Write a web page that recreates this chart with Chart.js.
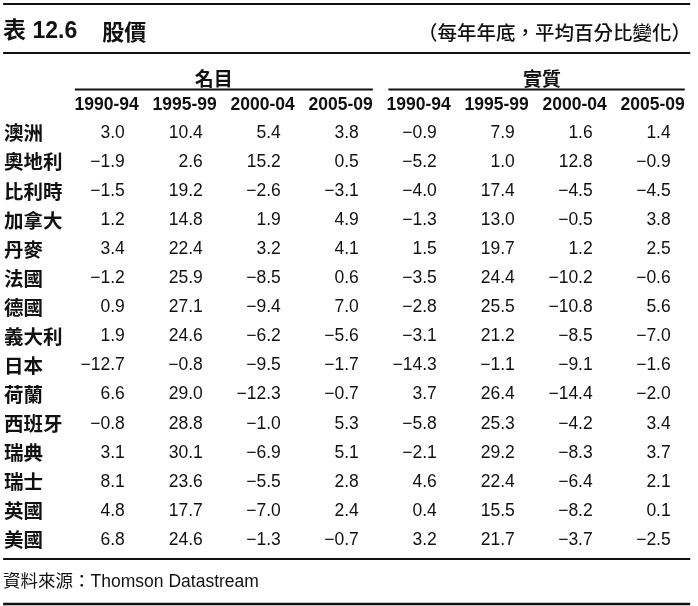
<!DOCTYPE html>
<html>
<head>
<meta charset="utf-8">
<script src="https://cdn.jsdelivr.net/npm/chart.js@4/dist/chart.umd.min.js"></script>
<style>
  html, body { margin: 0; padding: 0; background: #fff; }
  canvas { display: block; }
</style>
</head>
<body>
<canvas id="table" width="698" height="606"></canvas>
<script>
// table content
const countries = ['澳洲', '奧地利', '比利時', '加拿大', '丹麥', '法國', '德國', '義大利',
                   '日本', '荷蘭', '西班牙', '瑞典', '瑞士', '英國', '美國'];
const periods = ['1990-94', '1995-99', '2000-04', '2005-09'];
const groups = ['名目', '實質'];

// nominal
const nom1990 = [3.0, -1.9, -1.5, 1.2, 3.4, -1.2, 0.9, 1.9, -12.7, 6.6, -0.8, 3.1, 8.1, 4.8, 6.8];
const nom1995 = [10.4, 2.6, 19.2, 14.8, 22.4, 25.9, 27.1, 24.6, -0.8, 29.0, 28.8, 30.1, 23.6, 17.7, 24.6];
const nom2000 = [5.4, 15.2, -2.6, 1.9, 3.2, -8.5, -9.4, -6.2, -9.5, -12.3, -1.0, -6.9, -5.5, -7.0, -1.3];
const nom2005 = [3.8, 0.5, -3.1, 4.9, 4.1, 0.6, 7.0, -5.6, -1.7, -0.7, 5.3, 5.1, 2.8, 2.4, -0.7];
// real
const real1990 = [-0.9, -5.2, -4.0, -1.3, 1.5, -3.5, -2.8, -3.1, -14.3, 3.7, -5.8, -2.1, 4.6, 0.4, 3.2];
const real1995 = [7.9, 1.0, 17.4, 13.0, 19.7, 24.4, 25.5, 21.2, -1.1, 26.4, 25.3, 29.2, 22.4, 15.5, 21.7];
const real2000 = [1.6, 12.8, -4.5, -0.5, 1.2, -10.2, -10.8, -8.5, -9.1, -14.4, -4.2, -8.3, -6.4, -8.2, -3.7];
const real2005 = [1.4, -0.9, -4.5, 3.8, 2.5, -0.6, 5.6, -7.0, -1.6, -2.0, 3.4, 3.7, 2.1, 0.1, -2.5];

const columns = [nom1990, nom1995, nom2000, nom2005, real1990, real1995, real2000, real2005];

const titleText = '表 12.6';
const titleName = '股價';
const subtitle = '（每年年底，平均百分比變化）';
const source = '資料來源：Thomson Datastream';

const INK = '#111';
const latin = '"Liberation Sans", Arial, sans-serif';
const cjk = '"Noto Sans CJK TC", "Noto Sans CJK SC", sans-serif';

function fmt(v) {
    return v.toFixed(1).replace('-', '\u2212');
}

// one scatter dataset per column, each cell sits at (column, row)
const datasets = columns.map((col, c) => ({
    label: (c < 4 ? groups[0] : groups[1]) + ' ' + periods[c % 4],
    data: col.map((v, r) => ({ x: c, y: r, v: v })),
    pointRadius: 0,
    showLine: false
}));

// draws the cell texts, headers and rules using the chart scales
const tablePlugin = {
    id: 'tablePlugin',
    afterDatasetsDraw(chart) {
        const ctx = chart.ctx;
        const sx = chart.scales.x, sy = chart.scales.y;
        const px = v => sx.getPixelForValue(v);
        const py = v => sy.getPixelForValue(v);

        ctx.save();
        ctx.fillStyle = INK;
        ctx.strokeStyle = INK;
        ctx.textBaseline = 'middle';

        // rules
        function rule(y, x0, x1, w) {
            ctx.lineWidth = w;
            ctx.beginPath();
            ctx.moveTo(px(x0), py(y));
            ctx.lineTo(px(x1), py(y));
            ctx.stroke();
        }
        rule(-4.44, -1.56, 7.25, 2);
        rule(-2.75, -1.56, 7.25, 2);
        rule(-1.50, -0.64, 3.18, 2);
        rule(-1.50, 3.38, 7.18, 2);
        rule(14.65, -1.56, 7.25, 2);
        rule(16.20, -1.56, 7.25, 2.5);

        // title line
        ctx.textAlign = 'left';
        ctx.font = 'bold 23px ' + latin.replace('sans-serif', '') + cjk;
        ctx.fillText(titleText, px(-1.56), py(-3.47));
        ctx.font = 'bold 22px ' + cjk;
        ctx.fillText(titleName, px(-0.29), py(-3.47));
        ctx.textAlign = 'right';
        ctx.font = '500 19.5px ' + cjk;
        ctx.fillText(subtitle, px(7.26), py(-3.47));

        // group headers
        ctx.textAlign = 'center';
        ctx.font = 'bold 19px ' + cjk;
        ctx.fillText(groups[0], px(1.14), py(-1.86));
        ctx.fillText(groups[1], px(5.35), py(-1.86));

        // period headers
        ctx.textAlign = 'right';
        ctx.font = 'bold 17.5px ' + latin;
        for (let c = 0; c < columns.length; c++) {
            ctx.fillText(periods[c % 4], px(c + 0.18), py(-0.96));
        }

        // row labels
        ctx.textAlign = 'left';
        ctx.font = 'bold 19.5px ' + cjk;
        countries.forEach((name, r) => ctx.fillText(name, px(-1.55), py(r)));

        // cell values at the dataset element positions
        ctx.textAlign = 'right';
        ctx.font = '17.5px ' + latin;
        chart.data.datasets.forEach((ds, i) => {
            chart.getDatasetMeta(i).data.forEach((pt, j) => {
                ctx.fillText(fmt(ds.data[j].v), pt.x, pt.y);
            });
        });

        // source note
        ctx.textAlign = 'left';
        ctx.font = '17.5px ' + latin.replace('sans-serif', '') + cjk;
        ctx.fillText(source, px(-1.56), py(15.45));

        ctx.restore();
    }
};

new Chart(document.getElementById('table'), {
    type: 'scatter',
    data: { datasets: datasets },
    options: {
        responsive: false,
        animation: false,
        events: [],
        layout: { padding: 0 },
        plugins: {
            legend: { display: false },
            tooltip: { enabled: false }
        },
        scales: {
            x: { type: 'linear', min: -1.6, max: 7.35, display: false },
            y: { type: 'linear', min: -4.575, max: 16.27, reverse: true, display: false }
        }
    },
    plugins: [tablePlugin]
});
</script>
</body>
</html>
